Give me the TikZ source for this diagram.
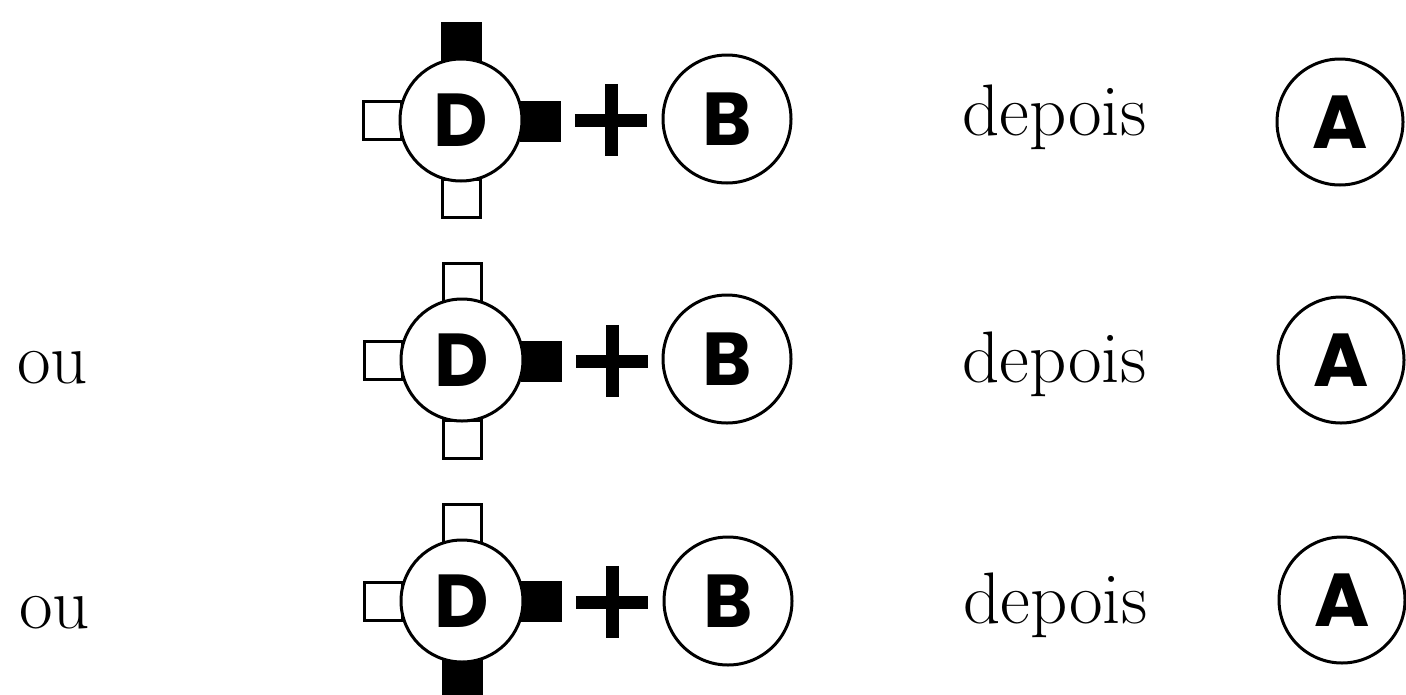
\documentclass[tikz,border=0pt]{standalone}
\usepackage{fontspec}
\newfontfamily\lab{Poppins}
\tikzset{
  x=1pt, y=-1pt,
  ring/.style={circle, draw, fill=white, line width=3pt, inner sep=0pt, font=\lab\bfseries\fontsize{75}{75}\selectfont},
  osq/.style={draw, fill=white, line width=3pt, minimum size=38pt, inner sep=0pt},
  bsq/.style={draw, fill=black, line width=3pt, minimum size=38pt, inner sep=0pt},
  word/.style={anchor=base west, inner sep=0pt, font=\fontsize{73}{86}\selectfont},
  plusbar/.style={line width=13pt}
}
\begin{document}
\begin{tikzpicture}
\useasboundingbox (0,0) rectangle (1406,694);
% ---------- row 1
\node[bsq] (t1) at (461,42) {};
\node[bsq] (r1) at (540,121) {};
\node[osq] (b1) at (461,198) {};
\node[osq] (l1) at (382,120) {};
\node[ring, minimum size=122pt] (d1) at (461,120) {D};
\node[inner sep=0pt, minimum size=72pt] (p1) at (611,120) {};
\draw[plusbar] (p1.west) -- (p1.east) (p1.north) -- (p1.south);
\node[ring, minimum size=128pt] (bb1) at (727,119) {B};
\node[word] (w1) at (962,135) {depois};
\node[ring, minimum size=126pt] (a1) at (1340,122) {A};
% ---------- row 2
\node[word] (o2) at (17,383) {ou};
\node[osq] (t2) at (462,282) {};
\node[bsq] (r2) at (541,361) {};
\node[osq] (b2) at (462,439) {};
\node[osq] (l2) at (383,360) {};
\node[ring, minimum size=122pt] (d2) at (462,360) {D};
\node[inner sep=0pt, minimum size=72pt] (p2) at (612,361) {};
\draw[plusbar] (p2.west) -- (p2.east) (p2.north) -- (p2.south);
\node[ring, minimum size=128pt] (bb2) at (727,359) {B};
\node[word] (w2) at (962,382) {depois};
\node[ring, minimum size=126pt] (a2) at (1341,360) {A};
% ---------- row 3
\node[word] (o3) at (19,628) {ou};
\node[osq] (t3) at (462,523) {};
\node[bsq] (r3) at (541,601) {};
\node[bsq] (b3) at (462,680) {};
\node[osq] (l3) at (383,601) {};
\node[ring, minimum size=122pt] (d3) at (462,601) {D};
\node[inner sep=0pt, minimum size=72pt] (p3) at (612,602) {};
\draw[plusbar] (p3.west) -- (p3.east) (p3.north) -- (p3.south);
\node[ring, minimum size=128pt] (bb3) at (728,601) {B};
\node[word] (w3) at (963,623) {depois};
\node[ring, minimum size=126pt] (a3) at (1342,600) {A};
\end{tikzpicture}
\end{document}
